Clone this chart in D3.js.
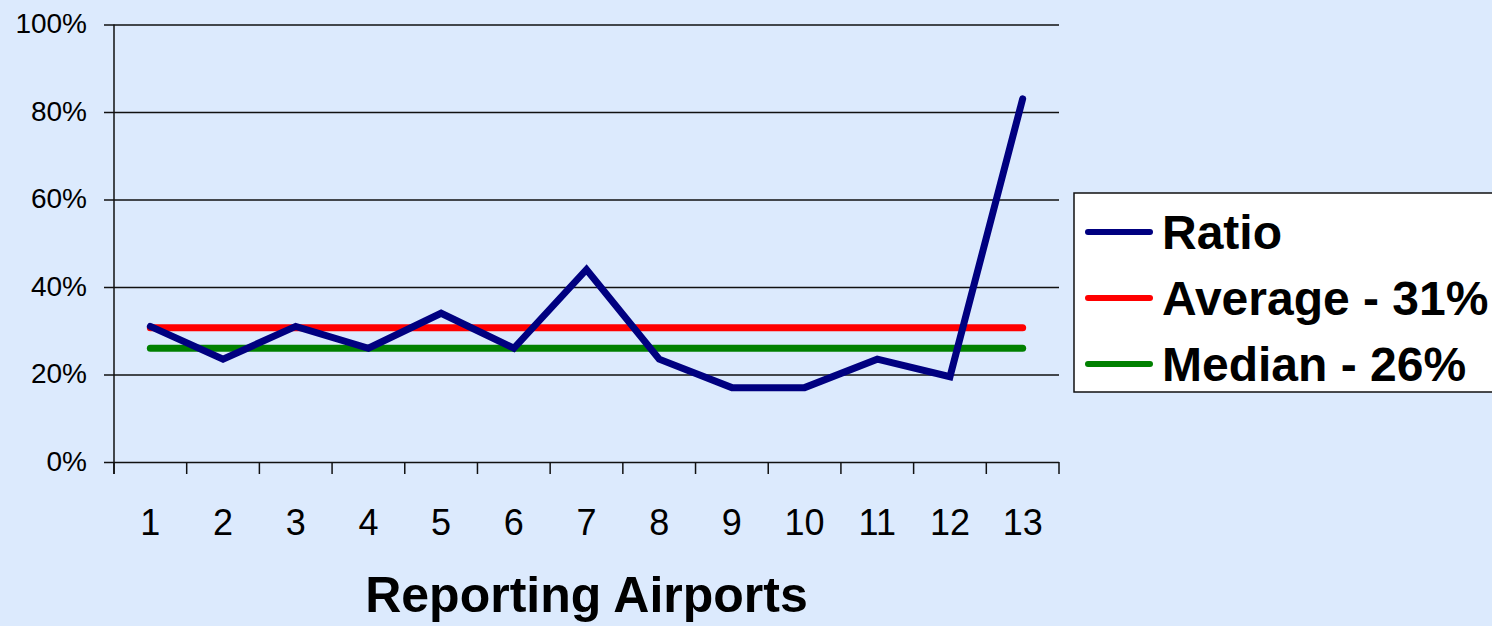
<!DOCTYPE html>
<html>
<head>
<meta charset="utf-8">
<script src="https://cdn.jsdelivr.net/npm/d3@7"></script>
<style>
  body { margin: 0; background: #dceafd; }
  svg { display: block; font-family: "Liberation Sans", Arial, sans-serif; }
</style>
</head>
<body>
<svg id="chart" width="1492" height="626"></svg>
<script>
// data
var airports = ["1","2","3","4","5","6","7","8","9","10","11","12","13"];
var ratio = [31, 23.5, 31, 26, 34, 26, 44, 23.5, 17, 17, 23.5, 19.5, 83];
var average = 30.7;
var median = 26;
var yTicks = [0, 20, 40, 60, 80, 100];
var legendItems = [
  {name: "Ratio", color: "#000080"},
  {name: "Average - 31%", color: "#ff0000"},
  {name: "Median - 26%", color: "#008000"}
];

// dimensions
var svg = d3.select("svg#chart"),
    width = +svg.attr("width"),
    height = +svg.attr("height");
var plotLeft = 114, plotRight = 1059, plotTop = 24.5, plotBottom = 462;

svg.append("rect").attr("width", width).attr("height", height).attr("fill", "#dceafd");

// scales
var x = d3.scaleBand().domain(airports).range([plotLeft, plotRight]);
var y = d3.scaleLinear().domain([0, 100]).range([plotBottom, plotTop]);

// gridlines + y axis
var yAxis = svg.append("g")
    .attr("transform", "translate(" + plotLeft + ",0)")
    .call(d3.axisLeft(y).tickValues(yTicks).tickSize(10).tickFormat(function(d) { return d + "%"; }));
yAxis.select(".domain").remove();
yAxis.selectAll(".tick line").attr("x1", -10).attr("x2", plotRight - plotLeft).attr("stroke", "#111").attr("stroke-width", 1.3);
yAxis.selectAll(".tick text")
    .attr("x", -27)
    .attr("dy", "0.3em")
    .style("font-size", "28px")
    .style("fill", "#000");
svg.append("line")
    .attr("x1", plotLeft).attr("x2", plotLeft)
    .attr("y1", plotTop).attr("y2", plotBottom + 12)
    .attr("stroke", "#111").attr("stroke-width", 1.5);

// x axis ticks at band edges
var edges = airports.map(function(d) { return x(d); }).concat([plotRight]);
svg.selectAll(".xtick")
    .data(edges)
    .enter().append("line")
    .attr("class", "xtick")
    .attr("x1", function(d) { return d; }).attr("x2", function(d) { return d; })
    .attr("y1", plotBottom).attr("y2", plotBottom + 12)
    .attr("stroke", "#111").attr("stroke-width", 1.5);
svg.selectAll(".xlabel")
    .data(airports)
    .enter().append("text")
    .attr("class", "xlabel")
    .attr("x", function(d) { return x(d) + x.bandwidth() / 2; })
    .attr("y", 535)
    .attr("text-anchor", "middle")
    .style("font-size", "36px")
    .text(function(d) { return d; });

svg.append("text")
    .attr("x", (plotLeft + plotRight) / 2)
    .attr("y", 612)
    .attr("text-anchor", "middle")
    .style("font-size", "50px")
    .style("font-weight", "bold")
    .text("Reporting Airports");

// lines
var cx = function(d) { return x(d) + x.bandwidth() / 2; };
var line = d3.line()
    .x(function(d, i) { return cx(airports[i]); })
    .y(function(d) { return y(d); });

svg.append("path")
    .datum(airports.map(function() { return median; }))
    .attr("d", line)
    .attr("fill", "none").attr("stroke", "#008000").attr("stroke-width", 7)
    .attr("stroke-linecap", "round");
svg.append("path")
    .datum(airports.map(function() { return average; }))
    .attr("d", line)
    .attr("fill", "none").attr("stroke", "#ff0000").attr("stroke-width", 7)
    .attr("stroke-linecap", "round");
svg.append("path")
    .datum(ratio)
    .attr("d", line)
    .attr("fill", "none").attr("stroke", "#000080").attr("stroke-width", 7)
    .attr("stroke-linecap", "round").attr("stroke-linejoin", "miter");

// legend
var legend = svg.append("g");
legend.append("rect")
    .attr("x", 1074).attr("y", 193)
    .attr("width", 440).attr("height", 199)
    .attr("fill", "#fff").attr("stroke", "#111").attr("stroke-width", 1.5);
var rows = legend.selectAll(".leg")
    .data(legendItems)
    .enter().append("g")
    .attr("transform", function(d, i) { return "translate(0," + (232 + i * 66) + ")"; });
rows.append("line")
    .attr("x1", 1088).attr("x2", 1150)
    .attr("stroke", function(d) { return d.color; })
    .attr("stroke-width", 6).attr("stroke-linecap", "round");
rows.append("text")
    .attr("x", 1162)
    .attr("dy", "0.36em")
    .style("font-size", "48px")
    .style("font-weight", "bold")
    .text(function(d) { return d.name; });
</script>
</body>
</html>
